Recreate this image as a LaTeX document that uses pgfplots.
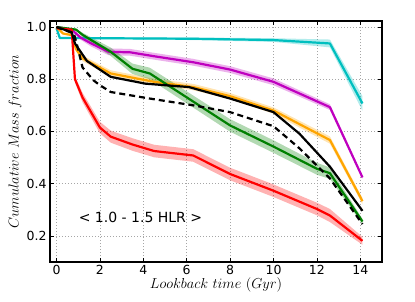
\documentclass[border=0pt]{standalone}
\usepackage{pgfplots}
\pgfplotsset{compat=1.18}
\usepackage{fontspec}
\setmainfont{DejaVu Sans}

\definecolor{mcyan}{RGB}{0,191,191}
\definecolor{mmag}{RGB}{191,0,191}
\definecolor{morange}{RGB}{255,165,0}
\definecolor{mgreen}{RGB}{0,128,0}
\definecolor{mred}{RGB}{255,0,0}

\begin{document}
\begin{tikzpicture}
\useasboundingbox (0pt,0pt) rectangle (415pt,301pt);
\begin{axis}[
  at={(50pt,39pt)}, anchor=south west,
  scale only axis, width=332pt, height=241pt,
  xmin=-0.3, xmax=15, ymin=0.1, ymax=1.023,
  xtick={0,2,4,6,8,10,12,14},
  ytick={0.2,0.4,0.6,0.8,1.0},
  yticklabel style={/pgf/number format/fixed, /pgf/number format/fixed zerofill, /pgf/number format/precision=1},
  /pgf/number format/assume math mode=true,
  ticklabel style={font=\fontsize{12.5}{14}\selectfont},
  tick align=inside, major tick length=4pt,
  tick style={black, line width=0.6pt},
  axis line style={line width=1.6pt},
  grid=major,
  major grid style={gray!70, line width=0.7pt, dash pattern=on 1pt off 2pt},
  xlabel={$Lookback\ time\ (Gyr)$},
  ylabel={$Cumulative\ Mass\ fraction$},
  label style={font=\fontsize{14}{16}\selectfont},
  xlabel style={at={(axis description cs:0.5,-0.095)}, anchor=center},
  ylabel style={at={(axis description cs:-0.105,0.5)}, anchor=center},
]
% bands (upper edge forward, lower edge backward)
\addplot[fill=mcyan, fill opacity=0.3, draw=none, forget plot] coordinates {
(0,0.995)(0.15,0.961)(6.3,0.96)(10.0,0.957)(12.6,0.952)(14.1,0.735)
(14.1,0.679)(12.6,0.922)(10.0,0.943)(6.3,0.95)(0.15,0.955)(0,0.995)};
\addplot[fill=mmag, fill opacity=0.3, draw=none, forget plot] coordinates {
(0,1.0)(0.7,0.993)(1.1,0.968)(1.6,0.949)(2.4,0.918)(3.4,0.916)(4.5,0.901)(6.3,0.878)(8.0,0.85)(10.0,0.803)(12.6,0.704)(14.1,0.43)
(14.1,0.418)(12.6,0.682)(10.0,0.777)(8.0,0.824)(6.3,0.852)(4.5,0.875)(3.4,0.89)(2.4,0.892)(1.6,0.925)(1.1,0.952)(0.7,0.987)(0,1.0)};
\addplot[fill=morange, fill opacity=0.3, draw=none, forget plot] coordinates {
(0,1.0)(0.3,0.978)(0.7,0.974)(0.9,0.923)(1.2,0.891)(2.5,0.834)(4.5,0.802)(6.3,0.782)(8.0,0.747)(10.0,0.692)(12.6,0.581)(14.1,0.345)
(14.1,0.321)(12.6,0.553)(10.0,0.668)(8.0,0.723)(6.3,0.758)(4.5,0.778)(2.5,0.81)(1.2,0.869)(0.9,0.907)(0.7,0.964)(0.3,0.972)(0,1.0)};
\addplot[fill=mgreen, fill opacity=0.3, draw=none, forget plot] coordinates {
(0,1.0)(0.9,0.993)(1.2,0.978)(2.5,0.921)(3.5,0.86)(4.3,0.844)(8.0,0.647)(10.0,0.566)(12.0,0.48)(12.6,0.462)(14.1,0.265)
(14.1,0.245)(12.6,0.418)(12.0,0.434)(10.0,0.518)(8.0,0.599)(4.3,0.80)(3.5,0.82)(2.5,0.889)(1.2,0.962)(0.9,0.987)(0,1.0)};
\addplot[fill=mred, fill opacity=0.3, draw=none, forget plot] coordinates {
(0,0.995)(0.7,0.993)(0.85,0.812)(1.2,0.748)(2.0,0.637)(2.5,0.603)(3.5,0.574)(4.5,0.549)(6.3,0.532)(8.0,0.461)(10.0,0.397)(12.0,0.327)(12.6,0.303)(14.1,0.196)
(14.1,0.166)(12.6,0.253)(12.0,0.279)(10.0,0.349)(8.0,0.413)(6.3,0.484)(4.5,0.501)(3.5,0.526)(2.5,0.557)(2.0,0.593)(1.2,0.712)(0.85,0.788)(0.7,0.987)(0,0.995)};
% lines
\addplot[mcyan, line width=2.2pt, line join=round] coordinates {
(0,0.995)(0.15,0.958)(6.3,0.955)(10.0,0.95)(12.6,0.937)(14.1,0.707)};
\addplot[mmag, line width=2.2pt, line join=round] coordinates {
(0,1.0)(0.7,0.99)(1.1,0.96)(1.6,0.937)(2.4,0.905)(3.4,0.903)(4.5,0.888)(6.3,0.865)(8.0,0.837)(10.0,0.79)(12.6,0.693)(14.1,0.424)};
\addplot[morange, line width=2.2pt, line join=round] coordinates {
(0,1.0)(0.3,0.975)(0.7,0.969)(0.9,0.915)(1.2,0.88)(2.5,0.822)(4.5,0.79)(6.3,0.77)(8.0,0.735)(10.0,0.68)(12.6,0.567)(14.1,0.333)};
\addplot[mgreen, line width=2.2pt, line join=round] coordinates {
(0,1.0)(0.9,0.99)(1.2,0.97)(2.5,0.905)(3.5,0.84)(4.3,0.822)(8.0,0.623)(10.0,0.542)(12.0,0.457)(12.6,0.44)(14.1,0.255)};
\addplot[mred, line width=2.2pt, line join=round] coordinates {
(0,0.995)(0.7,0.99)(0.85,0.80)(1.2,0.73)(2.0,0.615)(2.5,0.58)(3.5,0.55)(4.5,0.525)(6.3,0.508)(8.0,0.437)(10.0,0.373)(12.0,0.303)(12.6,0.278)(14.1,0.181)};
\addplot[black, line width=2.2pt, line join=round] coordinates {
(0,1.0)(0.7,0.98)(0.85,0.937)(1.4,0.87)(2.5,0.809)(4.1,0.783)(6.1,0.77)(8.0,0.726)(10.0,0.674)(11.2,0.591)(12.6,0.465)(14.1,0.296)};
\addplot[black, line width=2.2pt, line join=round, dash pattern=on 6pt off 4pt] coordinates {
(0,1.0)(0.8,0.975)(0.95,0.93)(1.2,0.845)(1.7,0.796)(2.0,0.777)(2.5,0.751)(4.3,0.726)(6.3,0.70)(8.0,0.674)(10.0,0.62)(11.2,0.535)(12.6,0.42)(14.1,0.245)};
\node[font=\fontsize{14}{16}\selectfont, anchor=center] at (axis cs:3.87,0.27) {< 1.0 - 1.5 HLR >};
\end{axis}
\end{tikzpicture}
\end{document}
